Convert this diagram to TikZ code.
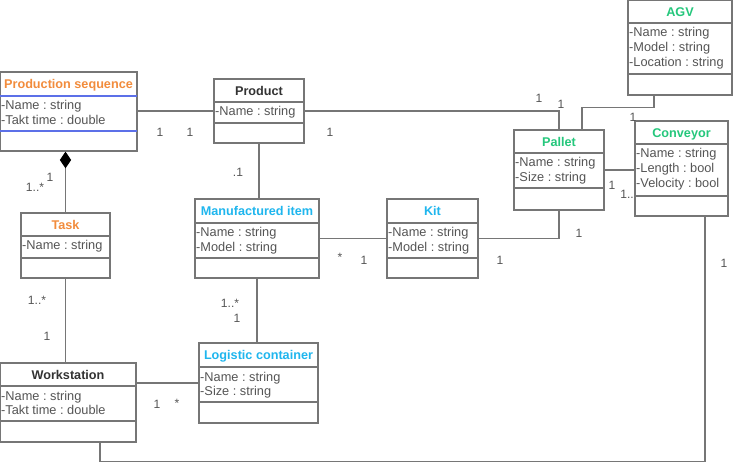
\documentclass[tikz,border=0pt]{standalone}
\usepackage{fontspec}
\setmainfont{Liberation Sans}
\usetikzlibrary{arrows.meta,fit,calc}
\frenchspacing

\definecolor{psorange}{HTML}{F28C3C}
\definecolor{itemcyan}{HTML}{1FB6EE}
\definecolor{agvgreen}{HTML}{25C77C}
\definecolor{boxgray}{HTML}{767676}
\definecolor{txtgray}{HTML}{555555}
\definecolor{selblue}{HTML}{5C70E8}

\begin{document}
\begin{tikzpicture}[x=0.03cm,y=-0.03cm,
  class/.style={draw=boxgray,line width=1.1pt,inner sep=0pt},
  sep/.style={draw=boxgray,line width=1.1pt},
  title/.style={anchor=base,inner sep=0pt,font=\fontsize{10.8}{13}\selectfont\bfseries},
  attr/.style={anchor=north west,inner sep=0pt,align=left,text=txtgray,
    font=\fontsize{10.9}{12.8}\selectfont},
  link/.style={draw=boxgray,line width=1.2pt},
  mult/.style={inner sep=0pt,text=txtgray,font=\fontsize{10.3}{12}\selectfont}]

  \fill[white] (0,0) rectangle (740,465);
  \useasboundingbox (0,0) rectangle (740,465);

  % classes
  \node[class,fit={(0,72) (137,151)}] (ps) {};
  \draw[sep,draw=selblue] (0,96) -- (137,96) (0,131) -- (137,131);
  \node[title,text=psorange] at (68.5,88) {Production sequence};
  \node[attr] at (1,100.5) {-Name : string\\-Takt time : double};

  \node[class,fit={(214,79) (304,143)}] (pr) {};
  \draw[sep] (214,102) -- (304,102) (214,123) -- (304,123);
  \node[title,text=black!80] at (259,95) {Product};
  \node[attr] at (215,106.5) {-Name : string};

  \node[class,fit={(21,213) (110,278)}] (tk) {};
  \draw[sep] (21,236) -- (110,236) (21,258) -- (110,258);
  \node[title,text=psorange] at (65.5,229) {Task};
  \node[attr] at (22,240.5) {-Name : string};

  \node[class,fit={(0,363) (136,442)}] (ws) {};
  \draw[sep] (0,386) -- (136,386) (0,421) -- (136,421);
  \node[title,text=black!80] at (68,379) {Workstation};
  \node[attr] at (1,390.5) {-Name : string\\-Takt time : double};

  \node[class,fit={(195,199) (319,278)}] (mi) {};
  \draw[sep] (195,223) -- (319,223) (195,258) -- (319,258);
  \node[title,text=itemcyan] at (257,215) {Manufactured item};
  \node[attr] at (196,227.5) {-Name : string\\-Model : string};

  \node[class,fit={(387,199) (478,278)}] (kt) {};
  \draw[sep] (387,223) -- (478,223) (387,258) -- (478,258);
  \node[title,text=itemcyan] at (432.5,215) {Kit};
  \node[attr] at (388,227.5) {-Name : string\\-Model : string};

  \node[class,fit={(199,343) (318,423)}] (lc) {};
  \draw[sep] (199,367) -- (318,367) (199,402) -- (318,402);
  \node[title,text=itemcyan] at (258.5,359) {Logistic container};
  \node[attr] at (200,371.5) {-Name : string\\-Size : string};

  \node[class,fit={(514,130) (604,210)}] (pl) {};
  \draw[sep] (514,153) -- (604,153) (514,188) -- (604,188);
  \node[title,text=agvgreen] at (559,146) {Pallet};
  \node[attr] at (515,157.5) {-Name : string\\-Size : string};

  \node[class,fit={(635,121) (728,216)}] (cv) {};
  \draw[sep] (635,144) -- (728,144) (635,196) -- (728,196);
  \node[title,text=agvgreen] at (681.5,137) {Conveyor};
  \node[attr] at (636,148.5) {-Name : string\\-Length : bool\\-Velocity : bool};

  \node[class,fit={(628,0.6) (732,95)}] (agv) {};
  \draw[sep] (628,23) -- (732,23) (628,74) -- (732,74);
  \node[title,text=agvgreen] at (680,16) {AGV};
  \node[attr] at (629,27.5) {-Name : string\\-Model : string\\-Location : string};

  % connectors
  \draw[link] (ps.east |- pr.west) -- (pr.west);
  \draw[link] (pr.east) -| (pl.north);
  \draw[link] ($(agv.south)+(-26,0)$) -- ++(0,12) -| ($(pl.north)+(23,0)$);
  \draw[link] (pl.east) -- (pl.east -| cv.west);
  \draw[link] (kt.east) -| (pl.south);
  \draw[link] (mi.east) -- (kt.west);
  \draw[link] (pr.south) -- (pr.south |- mi.north);
  \draw[link,-{Diamond[black,fill=black,length=0.5cm,width=0.34cm]}] (tk.north) -- (tk.north |- ps.south);
  \draw[link] (tk.south) -- (tk.south |- ws.north);
  \draw[link] (mi.south) -- (mi.south |- lc.north);
  \draw[link] (lc.west -| ws.east) -- (lc.west);
  \draw[link] ($(ws.south)+(32,0)$) -- ++(0,19) -| ($(cv.south)+(23.5,0)$);

  % multiplicities
  \node[mult] (m1) at (160,132) {1};
  \node[mult] (m2) at (190,132) {1};
  \node[mult] (m3) at (330,132) {1};
  \node[mult] (m4) at (539,98) {1};
  \node[mult] (m5) at (561,104) {1};
  \node[mult] (m6) at (633,117) {1};
  \node[mult] (m7) at (612,185) {1};
  \node[mult] (m8) at (627,194) {1..};
  \node[mult] (m9) at (500,260) {1};
  \node[mult] (m10) at (579,233) {1};
  \node[mult] (m11) at (340,257) {*};
  \node[mult] (m12) at (364,260) {1};
  \node[mult] (m13) at (238,172) {.1};
  \node[mult] (m14) at (50,177) {1};
  \node[mult] (m15) at (35,187) {1..*};
  \node[mult] (m16) at (37,300) {1..*};
  \node[mult] (m17) at (47,336) {1};
  \node[mult] (m18) at (230,303) {1..*};
  \node[mult] (m19) at (237,318) {1};
  \node[mult] (m20) at (157,404) {1};
  \node[mult] (m21) at (177,403) {*};
  \node[mult] (m22) at (724,263) {1};
\end{tikzpicture}
\end{document}
